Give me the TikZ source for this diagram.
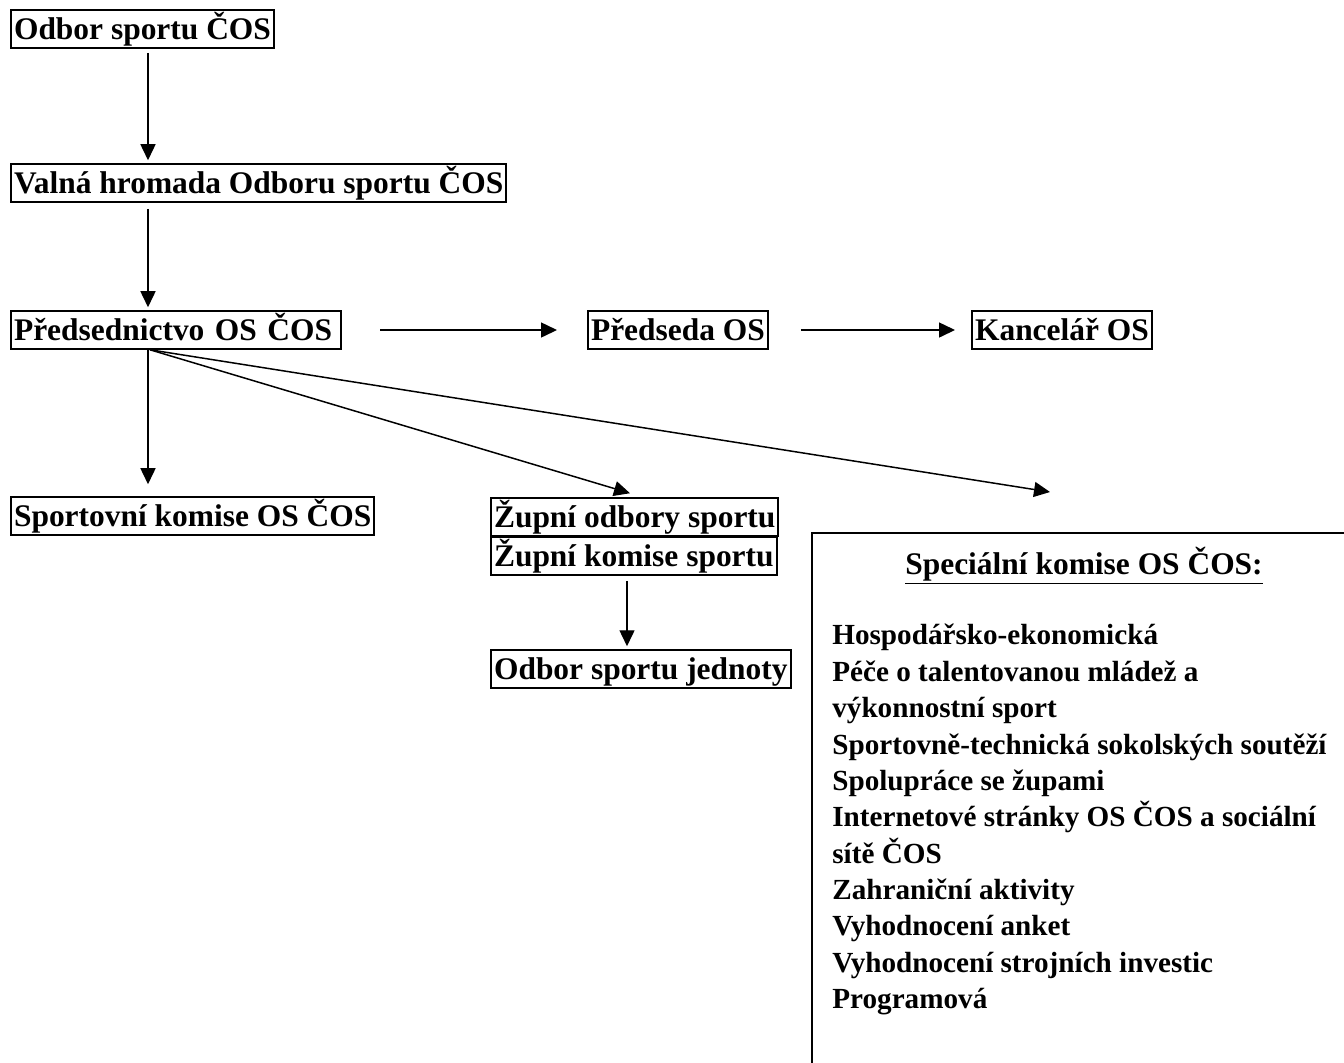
\documentclass[tikz,border=0pt]{standalone}
\usepackage{fontspec}
\setmainfont{Liberation Serif}
\usetikzlibrary{positioning,calc,arrows.meta}

\begin{document}
\begin{tikzpicture}[x=0.02cm, y=-0.02cm,
    box/.style={rectangle, draw, line width=1.2pt, anchor=west, inner xsep=1.7pt, inner ysep=0.8pt,
        text height=16pt, text depth=3.7pt, font=\fontsize{17.9}{20}\selectfont\bfseries},
    arrow/.style={-{Triangle[length=0.32cm, width=0.3cm]}, line width=0.85pt}
]
    \useasboundingbox (0,0) rectangle (1344,1062);
    \clip (0,0) rectangle (1344,1062);

    % hlavni bloky
    \node [box] (odbor) at (10,29) {Odbor sportu ČOS};
    \node [box] (valna) at (10,183) {Valná hromada Odboru sportu ČOS};
    \node [box, text width=6.48cm, align=left] (pred) at (10,330) {Předsednictvo OS ČOS};
    \node [box] (predseda) at (587,330) {Předseda OS};
    \node [box] (kancelar) at (971,330) {Kancelář OS};
    \node [box] (sport) at (10,516) {Sportovní komise OS ČOS};
    \node [box] (zodbor) at (490,517) {Župní odbory sportu};
    \node [box] (zkomise) at (490,556) {Župní komise sportu};
    \node [box] (jednota) at (490,669) {Odbor sportu jednoty};
    \coordinate (specin) at (1050,492);

    % specialni komise
    \draw [line width=0.8pt] (812,533) rectangle (1400,1100);
    \node [anchor=base, font=\fontsize{17.9}{20}\selectfont\bfseries] (spectitle) at (1084,574)
        {\underline{Speciální komise OS ČOS:}};
    \node [anchor=north west, inner sep=0pt, align=left, font=\fontsize{16.6}{20.7}\selectfont\bfseries] (speclist) at (832,624)
        {Hospodářsko-ekonomická\\
         Péče o talentovanou mládež a\\
         výkonnostní sport\\
         Sportovně-technická sokolských soutěží\\
         Spolupráce se župami\\
         Internetové stránky OS ČOS a sociální\\
         sítě ČOS\\
         Zahraniční aktivity\\
         Vyhodnocení anket\\
         Vyhodnocení strojních investic\\
         Programová};

    % spojnice
    \draw [arrow] ($(odbor.south west)+(138,4)$) -- ($(valna.north west)+(138,-3)$);
    \draw [arrow] ($(valna.south west)+(138,6)$) -- ($(pred.north west)+(138,-3)$);
    \draw [arrow] ($(pred.east)+(38,0)$) -- ($(predseda.west)+(-30,0)$);
    \draw [arrow] ($(predseda.east)+(32,0)$) -- ($(kancelar.west)+(-16,0)$);
    \draw [arrow] ($(pred.south west)+(138,0)$) -- ($(sport.north west)+(138,-12)$);
    \draw [arrow] ($(pred.south west)+(140,0)$) -- ($(zodbor.north west)+(140,-4)$);
    \draw [arrow] ($(pred.south west)+(140,0)$) -- (specin);
    \draw [arrow] ($(zkomise.south west)+(137,5)$) -- ($(jednota.north west)+(137,-3)$);
\end{tikzpicture}
\end{document}
